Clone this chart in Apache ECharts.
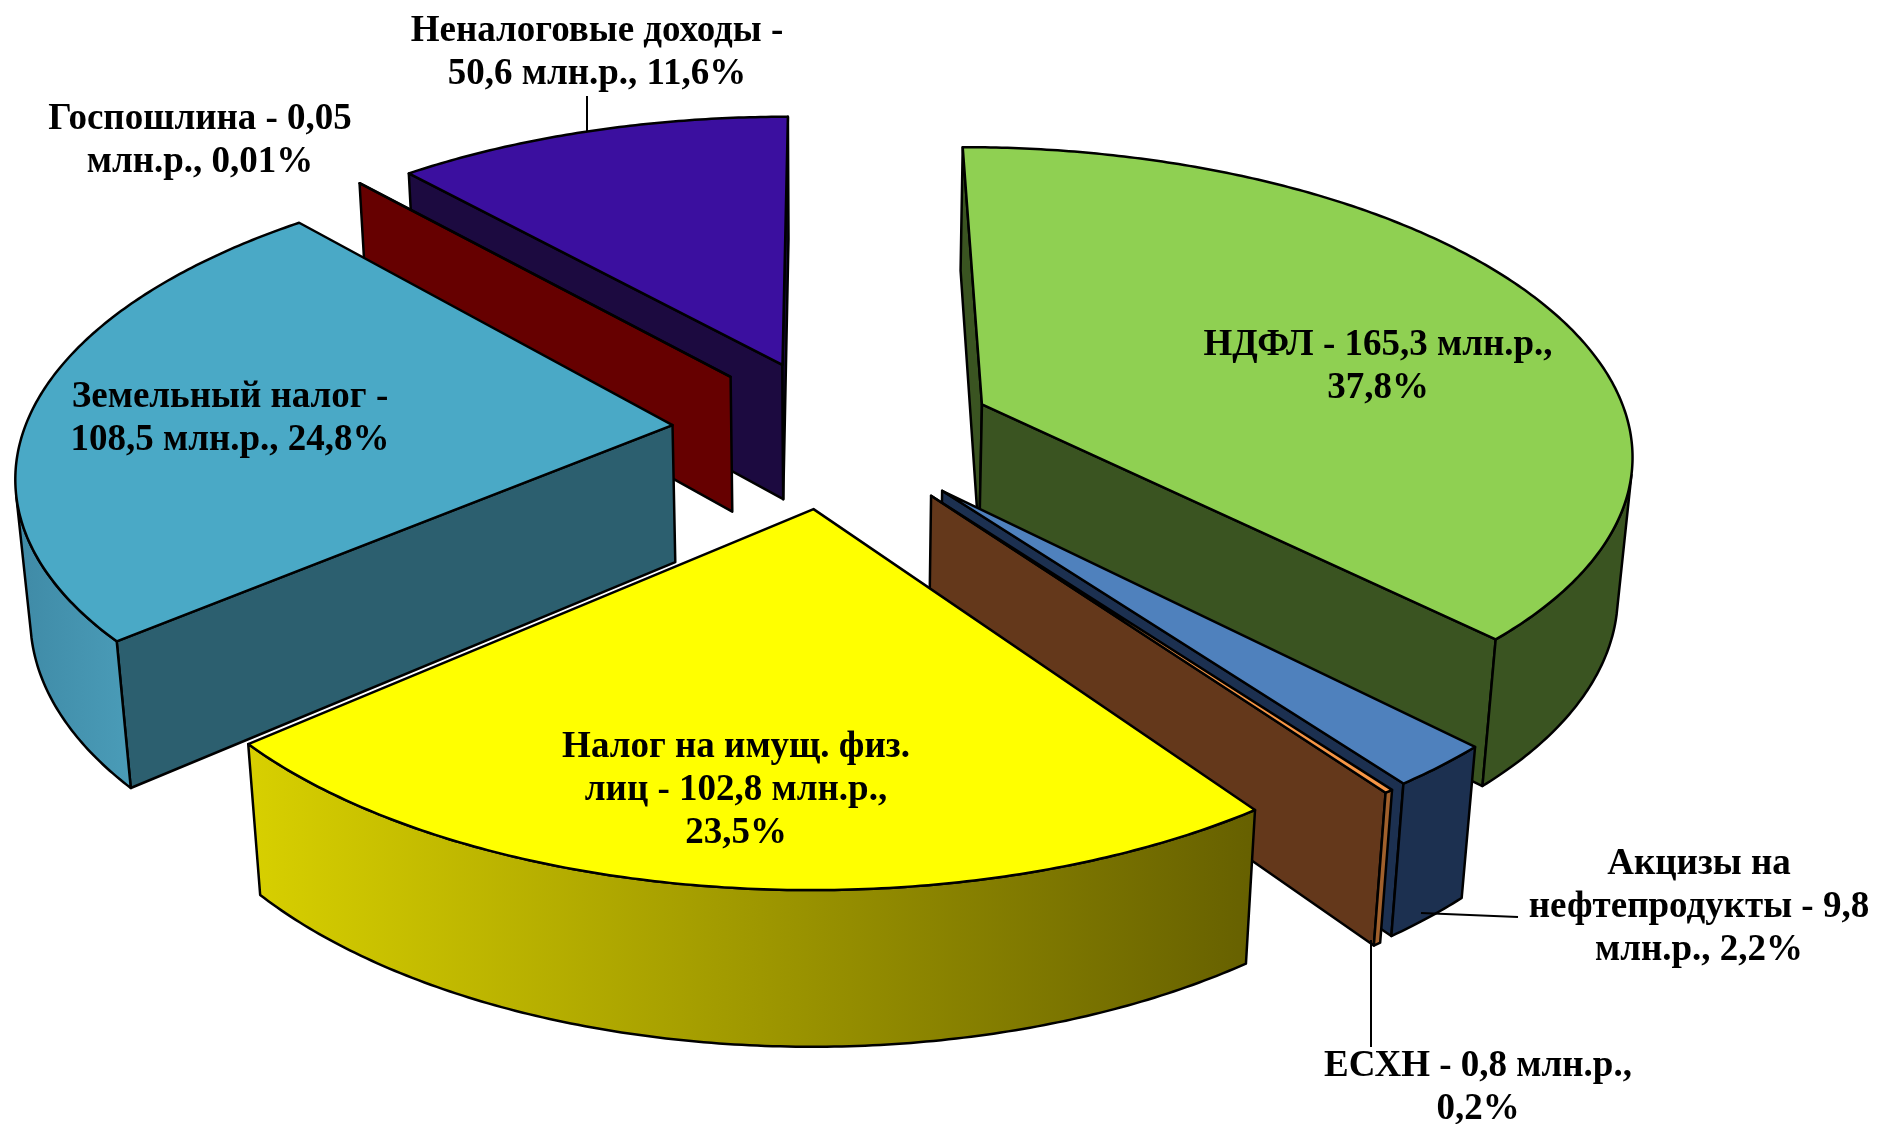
<!DOCTYPE html>
<html>
<head>
<meta charset="utf-8">
<title>Доходы</title>
<style>
html, body { margin: 0; padding: 0; background: #fff; }
#chart { width: 1877px; height: 1124px; }
</style>
<script src="https://cdn.jsdelivr.net/npm/echarts@6/dist/echarts.min.js"></script>
</head>
<body>
<div id="chart"></div>
<script>
// данные
var names = ['НДФЛ', 'Акцизы на нефтепродукты', 'ЕСХН', 'Налог на имущ. физ. лиц', 'Земельный налог', 'Госпошлина', 'Неналоговые доходы'];
var values = [165.3, 9.8, 0.8, 102.8, 108.5, 0.05, 50.6];
var labels = [
    'НДФЛ - 165,3 млн.р.,\n37,8%',
    'Акцизы на\nнефтепродукты - 9,8\nмлн.р., 2,2%',
    'ЕСХН - 0,8 млн.р.,\n0,2%',
    'Налог на имущ. физ.\nлиц - 102,8 млн.р.,\n23,5%',
    'Земельный налог -\n108,5 млн.р., 24,8%',
    'Госпошлина - 0,05\nмлн.р., 0,01%',
    'Неналоговые доходы -\n50,6 млн.р., 11,6%'
];

// оформление
var topColors = ['#8fd052', '#4f81bd', '#f79646', '#ffff00', '#4aa9c6', '#7a0000', '#3b0f9f'];
var wallColors = ['#3a5421', '#1c3050', '#64381b', '#666000', '#2c5f6f', '#660000', '#1c0a40'];
var rimColors = [
    ['#3a5421', '#3a5421'], ['#1c3050', '#1c3050'], ['#a0602c', '#a0602c'],
    ['#d8d000', '#666000'], ['#3f8aa6', '#4a9cb8'], ['#660000', '#660000'], ['#1c0a40', '#1c0a40']
];
// смещение секторов от центра: вправо и к зрителю
var explodeX = [157, 112, 101, -13, -155, -99, -46];
var explodeY = [-60, 123, 133, 160, -15, -122, -149];
var drawOrder = [6, 5, 4, 0, 1, 2, 3];
var labelPos = [[1378, 345], [1699, 864], [1478, 1066], [736, 747], [230, 397], [200, 119], [597, 31]];
var leaders = [[[587, 96], [587, 132]], [[1371, 940], [1371, 1047]], [[1421, 913], [1518, 917]]];

var cx = 827, cy = 432, radius = 649, height = 158, camDist = 4000;
var tilt = 27.7 * Math.PI / 180;
var LINE_H = 43, FONT = 37;

var total = 0;
for (var i = 0; i < values.length; i++) total += values[i];
var startAngles = [], sum = 0;
for (i = 0; i < values.length; i++) {
    startAngles[i] = sum / total * 2 * Math.PI;
    sum += values[i];
}

function project(x, y, z) {
    var yc = z * Math.cos(tilt) - y * Math.sin(tilt);
    var zc = camDist - y * Math.cos(tilt) - z * Math.sin(tilt);
    return [cx + camDist * x / zc, cy - camDist * yc / zc];
}

var camY = camDist * Math.cos(tilt);

function poly(points, fill) {
    return {
        type: 'polygon',
        shape: { points: points },
        style: { fill: fill, stroke: '#000', lineWidth: 2.5, lineJoin: 'round' }
    };
}

function renderSlice(params, api) {
    var idx = drawOrder[params.dataIndex];
    var a0 = startAngles[idx];
    var a1 = a0 + api.value(0) / total * 2 * Math.PI;
    var ox = explodeX[idx];
    var oy = explodeY[idx];
    var children = [];

    function rim(a, z) {
        return project(ox + radius * Math.sin(a), oy - radius * Math.cos(a), z);
    }
    var apexTop = project(ox, oy, 0);
    var apexBot = project(ox, oy, -height);

    // боковые радиальные стенки
    var sides = [[a0, -1], [a1, 1]];
    sides.forEach(function (s) {
        var nx = s[1] * Math.cos(s[0]), ny = s[1] * Math.sin(s[0]);
        if (nx * (0 - ox) + ny * (camY - oy) > 0) {
            children.push(poly([apexTop, rim(s[0], 0), rim(s[0], -height), apexBot], wallColors[idx]));
        }
    });

    // внешняя стенка, только видимая часть дуги
    var steps = Math.max(2, Math.ceil((a1 - a0) / 0.01));
    var topArc = [], botArc = [], outline = [];
    for (var k = 0; k <= steps; k++) {
        var a = a0 + (a1 - a0) * k / steps;
        outline.push(rim(a, 0));
        var px = ox + radius * Math.sin(a), py = oy - radius * Math.cos(a);
        if (Math.sin(a) * (0 - px) - Math.cos(a) * (camY - py) > 0) {
            topArc.push(rim(a, 0));
            botArc.unshift(rim(a, -height));
        }
    }
    if (topArc.length > 1) {
        var stops = rimColors[idx];
        children.push(poly(topArc.concat(botArc), new echarts.graphic.LinearGradient(0, 0, 1, 0, [
            { offset: 0, color: stops[0] },
            { offset: 1, color: stops[1] }
        ])));
    }

    // верхняя грань
    children.push(poly([apexTop].concat(outline), topColors[idx]));
    return { type: 'group', children: children };
}

function renderLabel(params, api) {
    var pos = labelPos[params.dataIndex];
    return {
        type: 'text',
        style: {
            x: pos[0],
            y: pos[1] - LINE_H / 2,
            text: labels[params.dataIndex],
            fill: '#000',
            font: 'bold ' + FONT + 'px "Liberation Serif"',
            lineHeight: LINE_H,
            align: 'center',
            verticalAlign: 'top'
        }
    };
}

function renderLeader(params) {
    var l = leaders[params.dataIndex];
    return {
        type: 'line',
        shape: { x1: l[0][0], y1: l[0][1], x2: l[1][0], y2: l[1][1] },
        style: { stroke: '#000', lineWidth: 2 }
    };
}

var chart = echarts.init(document.getElementById('chart'));
var option = {
    animation: false,
    backgroundColor: '#fff',
    series: [{
        type: 'custom',
        coordinateSystem: 'none',
        silent: true,
        z: 2,
        renderItem: renderSlice,
        data: drawOrder.map(function (n) { return [values[n]]; })
    }, {
        type: 'custom',
        coordinateSystem: 'none',
        silent: true,
        z: 3,
        renderItem: renderLeader,
        data: leaders.map(function (l, n) { return [n]; })
    }, {
        type: 'custom',
        coordinateSystem: 'none',
        silent: true,
        z: 4,
        renderItem: renderLabel,
        data: names.map(function (n, j) { return [j]; })
    }]
};
chart.setOption(option);
</script>
</body>
</html>
